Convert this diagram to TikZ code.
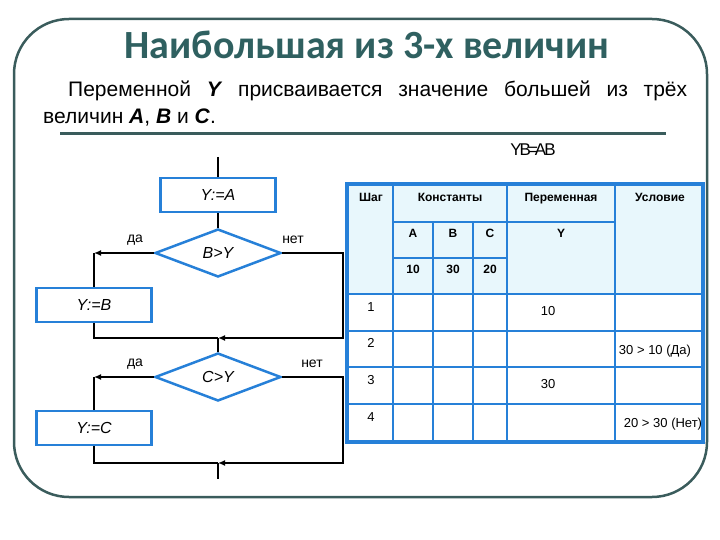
\documentclass[tikz,border=0pt]{standalone}
\usepackage{fontspec}
\setmainfont{Liberation Sans}
\newfontfamily\titlefont{Carlito}
\definecolor{myblue}{RGB}{38, 128, 216}
\definecolor{myteal}{RGB}{58, 92, 92}
\definecolor{mytitle}{RGB}{47, 96, 96}
\definecolor{mycyan}{RGB}{232, 247, 252}
\usetikzlibrary{calc, positioning, shapes.geometric, arrows.meta}

\tikzset{
	opbox/.style = {draw = myblue, line width = 2.5pt, fill = white, minimum width = 115pt, minimum height = 34pt, font = \fontsize{16}{18}\selectfont\itshape},
	condbox/.style = {diamond, draw = myblue, line width = 2.5pt, fill = white, minimum width = 126pt, minimum height = 48pt, inner sep = 0pt, font = \fontsize{16}{18}\selectfont\itshape},
	flow/.style = {line width = 1.6pt},
	lbl/.style = {font = \fontsize{14}{16}\selectfont},
	headtext/.style = {anchor = north, font = \fontsize{12}{14}\selectfont\bfseries},
	celltext/.style = {font = \fontsize{13}{15}\selectfont}
}

\begin{document}
\begin{tikzpicture}[x = 1pt, y = -1pt]
	\useasboundingbox (0,0) rectangle (720,540);

	% frame and heading
	\draw[myteal, line width = 2.5pt, rounded corners = 55pt] (14,19) rectangle (707,497);
	\node[font = \titlefont\bfseries\fontsize{40}{44}\selectfont, text = mytitle] (title) at (367,45) {Наибольшая из 3-х величин};
	\node[anchor = base west, inner sep = 0pt, font = \fontsize{21}{24}\selectfont] (line1) at (68,97)
		{\makebox[619pt][s]{Переменной \textbf{\textit{Y}} присваивается значение большей из трёх}};
	\node[anchor = base west, inner sep = 0pt, font = \fontsize{21}{24}\selectfont] (line2) at (43,124)
		{величин \textbf{\textit{A}}, \textbf{\textit{B}} и \textbf{\textit{C}}.};
	\draw[myteal, line width = 3pt] (60,134) -- (666,134);
	\node[font = \fontsize{17}{19}\selectfont] (ovl) at (533,150) {Y\kern-2pt B\kern-3pt =\kern-3pt A\kern-2pt B};

	% flowchart
	\coordinate (top) at (218,157);
	\coordinate (m1) at (218,338);
	\coordinate (m2) at (218,463);
	\coordinate (bot) at (218,479);
	\coordinate (r1) at (343,338);
	\coordinate (r2) at (343,463);

	\node[opbox] (ya) at (218,195) {Y:=A};
	\node[condbox] (cb) at (218,253) {B>Y};
	\node[opbox] (yb) at (94,305) {Y:=B};
	\node[condbox] (cc) at (218,377) {C>Y};
	\node[opbox] (yc) at (94,428) {Y:=C};

	\node[lbl] (da1) at (135,240) {да};
	\node[lbl] (net1) at (293,240) {нет};
	\node[lbl] (da2) at (135,364) {да};
	\node[lbl] (net2) at (312,364) {нет};

	\draw[flow] (top) -- (ya);
	\draw[flow] (ya) -- (cb);
	\draw[flow, -{Latex[length = 7pt, width = 6pt]}] (cb.west) -- (cb.west -| yb.north);
	\draw[flow] (cb.west -| yb.north) -- (yb.north);
	\draw[flow, -{Latex[length = 7pt, width = 6pt]}] (cb.east) -| (r1) -- (m1);
	\draw[flow] (yb.south) |- (m1);
	\draw[flow] (m1) -- (cc);
	\draw[flow, -{Latex[length = 7pt, width = 6pt]}] (cc.west) -- (cc.west -| yc.north);
	\draw[flow] (cc.west -| yc.north) -- (yc.north);
	\draw[flow, -{Latex[length = 7pt, width = 6pt]}] (cc.east) -| (r2) -- (m2);
	\draw[flow] (yc.south) |- (m2);
	\draw[flow] (m2) -- (bot);

	% trace table
	\fill[white] (347,184) rectangle (703,442);
	\fill[mycyan] (347,184) rectangle (703,294);
	\foreach \y in {294, 331, 367, 404}
		\draw[myblue, line width = 2pt] (347,\y) -- (703,\y);
	\draw[myblue, line width = 2pt] (393,222) -- (615,222);
	\draw[myblue, line width = 2pt] (393,258) -- (507,258);
	\foreach \x in {393, 507, 615}
		\draw[myblue, line width = 2pt] (\x,184) -- (\x,442);
	\foreach \x in {433, 473}
		\draw[myblue, line width = 2pt] (\x,222) -- (\x,442);
	\draw[myblue, line width = 4pt] (347,184) rectangle (703,442);

	\node[headtext] (shag) at (371,190) {Шаг};
	\node[headtext] (konst) at (450,190) {Константы};
	\node[headtext] (perem) at (561,190) {Переменная};
	\node[headtext] (usl) at (660,190) {Условие};
	\node[headtext] (ha) at (413,226) {A};
	\node[headtext] (hb) at (453,226) {B};
	\node[headtext] (hc) at (490,226) {C};
	\node[headtext] (hy) at (561,226) {Y};
	\node[headtext] (va) at (413,262) {10};
	\node[headtext] (vb) at (453,262) {30};
	\node[headtext] (vc) at (490,262) {20};

	\foreach \n/\y in {1/307, 2/343, 3/380, 4/417}
		\node[celltext] (step\n) at (371,\y) {\n};
	\node[celltext] (y1) at (548,311) {10};
	\node[celltext] (c2) at (655,351) {30 > 10 (Да)};
	\node[celltext] (y3) at (548,384) {30};
	\node[celltext] (c4) at (663,424) {20 > 30 (Нет)};
\end{tikzpicture}
\end{document}
